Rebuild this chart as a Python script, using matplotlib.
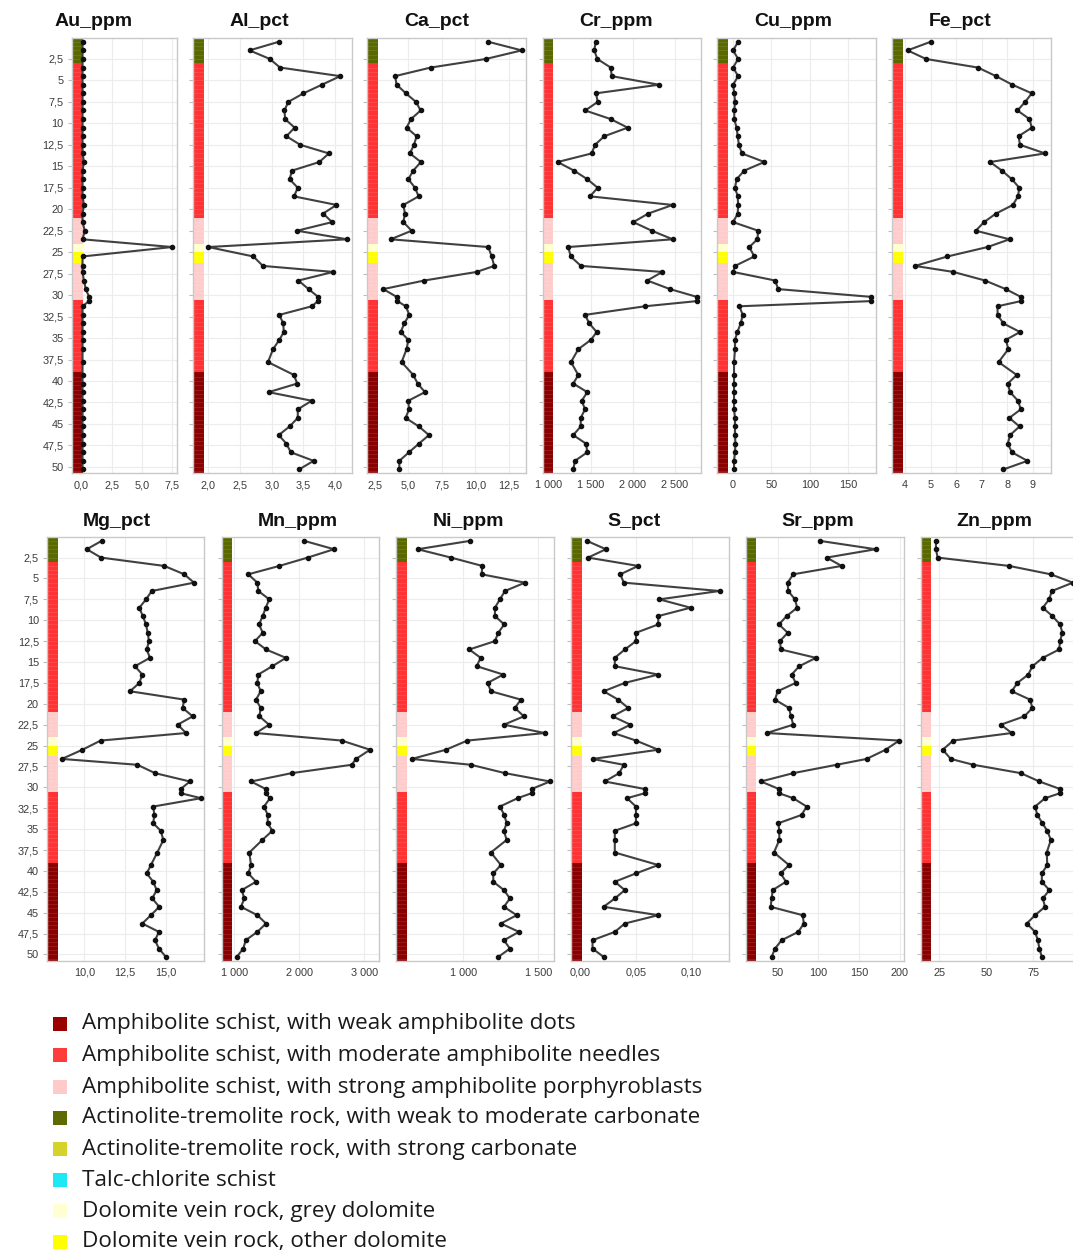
import matplotlib
matplotlib.use("Agg")
import matplotlib.pyplot as plt
import matplotlib.transforms as mtransforms
from matplotlib.patches import Rectangle

# ---------------------------------------------------------------- data
depth = [0.5, 1.5, 2.5, 3.5, 4.5, 5.5, 6.5, 7.5, 8.5, 9.5, 10.5, 11.5,
         12.5, 13.5, 14.5, 15.5, 16.5, 17.5, 18.5, 19.5, 20.5, 21.5, 22.5,
         23.5, 24.4, 25.5, 26.6, 27.3, 28.3, 29.3, 30.2, 30.7, 31.3, 32.3,
         33.3, 34.3, 35.2, 36.3, 37.8, 39.3, 40.3, 41.3, 42.3, 43.3, 44.3,
         45.3, 46.3, 47.3, 48.3, 49.3, 50.3]

au_ppm = [0.08, 0.08, 0.08, 0.08, 0.08, 0.08, 0.08, 0.08, 0.08, 0.08, 0.08,
          0.08, 0.08, 0.08, 0.2, 0.08, 0.08, 0.08, 0.08, 0.2, 0.08, 0.08,
          0.27, 0.08, 7.5, 0.08, 0.08, 0.08, 0.19, 0.35, 0.62, 0.62, 0.08,
          0.08, 0.08, 0.08, 0.08, 0.08, 0.08, 0.08, 0.08, 0.08, 0.08, 0.08,
          0.08, 0.08, 0.08, 0.08, 0.08, 0.08, 0.08]
al_pct = [3.11, 2.65, 2.97, 3.13, 4.08, 3.79, 3.50, 3.26, 3.20, 3.21, 3.36,
          3.23, 3.45, 3.90, 3.75, 3.32, 3.28, 3.41, 3.35, 4.02, 3.81, 3.95,
          3.40, 4.19, 2.00, 2.71, 2.86, 3.97, 3.42, 3.58, 3.73, 3.73, 3.63,
          3.12, 3.18, 3.19, 3.12, 3.02, 2.94, 3.35, 3.40, 2.95, 3.63, 3.41,
          3.41, 3.28, 3.11, 3.23, 3.30, 3.66, 3.43]
ca_pct = [10.96, 13.45, 10.78, 6.66, 4.00, 4.12, 4.81, 5.56, 5.91, 5.19, 4.86,
          5.61, 5.41, 5.11, 5.93, 5.36, 4.99, 5.49, 5.76, 4.62, 4.74, 4.62,
          5.24, 3.67, 10.96, 11.21, 11.40, 10.09, 6.18, 3.12, 4.12, 4.17,
          4.81, 5.06, 4.69, 4.42, 4.99, 4.86, 4.49, 5.36, 5.69, 6.23, 4.99,
          5.04, 4.79, 5.78, 6.53, 5.78, 5.04, 4.32, 4.32]
cr_ppm = [1561, 1545, 1580, 1739, 1751, 2311, 1565, 1585, 1438, 1739, 1940,
          1663, 1553, 1514, 1111, 1304, 1462, 1585, 1494, 2473, 2184, 2007,
          2225, 2473, 1237, 1265, 1387, 2350, 2172, 2441, 2757, 2757, 2145,
          1435, 1486, 1573, 1506, 1355, 1269, 1355, 1296, 1462, 1396, 1435,
          1384, 1384, 1296, 1447, 1462, 1316, 1296]
cu_ppm = [7, 0.5, 7, 0.5, 7, 0.5, 2, 3, 2, 2, 5, 6.5, 8, 12, 41, 15, 5, 3,
          6.5, 7, 6.5, 0.5, 33, 32, 21.5, 28, 3, 0.5, 55, 59, 179, 179, 8.6,
          13, 10.4, 6, 3, 3, 1.7, 1.7, 1.7, 1.7, 1.7, 1.7, 3, 3, 3, 3.5, 3,
          1.7, 1.7]
fe_pct = [5.00, 4.10, 4.82, 6.85, 7.56, 8.20, 8.96, 8.70, 8.40, 8.87, 8.96,
          8.44, 8.50, 9.48, 7.33, 7.79, 8.18, 8.47, 8.42, 8.22, 7.56, 7.09,
          6.77, 8.09, 7.23, 5.66, 4.39, 5.89, 7.13, 7.94, 8.53, 8.53, 7.62,
          7.62, 7.85, 8.50, 7.95, 8.04, 7.66, 8.37, 8.02, 8.11, 8.42, 8.53,
          8.08, 8.48, 8.11, 8.02, 8.18, 8.79, 7.85]
mg_pct = [11.06, 10.15, 11.02, 14.90, 16.12, 16.72, 14.13, 13.78, 13.37,
          13.58, 13.78, 13.88, 13.96, 13.82, 14.02, 13.10, 13.55, 13.37,
          12.80, 16.12, 16.02, 16.64, 15.72, 16.23, 11.00, 9.88, 8.62, 13.25,
          14.33, 16.47, 15.90, 15.90, 17.15, 14.22, 14.29, 14.22, 14.68,
          14.84, 14.47, 14.08, 13.82, 14.22, 14.43, 14.16, 14.59, 14.08,
          13.55, 14.57, 14.33, 14.57, 15.00]
mn_ppm = [2077, 2534, 2129, 1692, 1215, 1354, 1369, 1538, 1483, 1437, 1380,
          1437, 1318, 1488, 1795, 1585, 1369, 1354, 1406, 1334, 1406, 1385,
          1534, 1334, 2652, 3088, 2872, 2806, 1883, 1257, 1483, 1483, 1549,
          1457, 1514, 1514, 1585, 1431, 1231, 1257, 1215, 1334, 1114, 1154,
          1103, 1354, 1488, 1354, 1175, 1138, 1037]
ni_ppm = [1044, 696, 918, 1127, 1122, 1411, 1278, 1244, 1211, 1211, 1273,
          1233, 1211, 1040, 1116, 1089, 1267, 1162, 1184, 1384, 1344, 1404,
          1271, 1544, 1027, 884, 656, 1051, 1278, 1578, 1456, 1456, 1362,
          1244, 1273, 1289, 1271, 1289, 1184, 1251, 1200, 1200, 1271, 1311,
          1271, 1356, 1251, 1371, 1271, 1311, 1233]
s_pct = [0.006, 0.023, 0.007, 0.052, 0.036, 0.039, 0.125, 0.071, 0.099,
         0.070, 0.070, 0.050, 0.050, 0.040, 0.031, 0.031, 0.070, 0.040, 0.021,
         0.034, 0.043, 0.029, 0.045, 0.030, 0.050, 0.070, 0.011, 0.039, 0.035,
         0.022, 0.058, 0.058, 0.042, 0.050, 0.050, 0.050, 0.031, 0.031, 0.031,
         0.070, 0.050, 0.031, 0.040, 0.031, 0.021, 0.070, 0.040, 0.031, 0.011,
         0.011, 0.021]
sr_ppm = [101.9, 170.2, 110.1, 128.5, 69.1, 62.3, 63.0, 71.2, 74.0, 61.0,
          51.6, 62.3, 52.8, 54.0, 97.0, 76.5, 67.2, 72.1, 50.0, 46.7, 63.9,
          66.3, 69.1, 36.5, 199.1, 182.4, 159.1, 122.3, 69.1, 29.5, 51.6,
          51.6, 69.1, 85.6, 79.4, 50.8, 52.0, 52.0, 45.5, 63.9, 53.7, 60.2,
          43.9, 42.6, 41.4, 80.6, 82.2, 75.3, 54.9, 46.7, 42.6]
zn_ppm = [23.2, 23.2, 24.1, 62.2, 84.2, 96.0, 84.8, 83.4, 80.0, 85.1, 89.2,
          90.4, 89.2, 88.7, 80.0, 74.5, 72.3, 66.5, 63.5, 73.2, 74.5, 70.2,
          57.7, 63.5, 32.4, 26.8, 31.1, 43.1, 68.3, 78.2, 89.2, 89.2, 81.2,
          75.9, 77.1, 79.8, 82.4, 84.3, 82.1, 82.4, 79.5, 79.5, 83.5, 80.0,
          81.2, 75.9, 71.5, 75.9, 77.4, 78.2, 79.5]

# lithology log: interval tops, bottoms and unit index
litho_units = [
    "Amphibolite schist, with weak amphibolite dots",
    "Amphibolite schist, with moderate amphibolite needles",
    "Amphibolite schist, with strong amphibolite porphyroblasts",
    "Actinolite-tremolite rock, with weak to moderate carbonate",
    "Actinolite-tremolite rock, with strong carbonate",
    "Talc-chlorite schist",
    "Dolomite vein rock, grey dolomite",
    "Dolomite vein rock, other dolomite",
]
litho_colors = ["#9b0000", "#ff3c3c", "#ffcaca", "#5e6a00",
                "#d6d22c", "#1ee8f4", "#ffffd2", "#ffff00"]
litho_top = [0.0, 3.0, 21.0, 24.0, 25.0, 26.3, 30.6, 39.0]
litho_bottom = [3.0, 21.0, 24.0, 25.0, 26.3, 30.6, 39.0, 50.75]
litho_unit = [3, 1, 2, 6, 7, 2, 1, 0]
strip_colors = {0: "#8a0000", 1: "#ff3333", 2: "#ffcccc", 3: "#5a6800",
                6: "#ffffd0", 7: "#ffff00"}

depth_ticks = [2.5, 5, 7.5, 10, 12.5, 15, 17.5, 20, 22.5, 25, 27.5, 30,
               32.5, 35, 37.5, 40, 42.5, 45, 47.5, 50]

# ---------------------------------------------------------------- layout
W, H = 1073, 1255
fig = plt.figure(figsize=(W / 100, H / 100), dpi=100)

TICK_FONT = "Liberation Sans"


def fmt(v, dec):
    s = f"{v:,.{dec}f}"
    return s.replace(",", " ").replace(".", ",")


def ylab(v):
    return f"{v:g}".replace(".", ",")


# name, values, (left px, right px), xlim, xticks, decimals, title centre x
top_row = [
    ("Au_ppm", au_ppm, (72, 176.7), (-0.79, 7.87), [0, 2.5, 5, 7.5], 1, 94),
    ("Al_pct", al_pct, (193.3, 351.7), (1.763, 4.26),
     [2.0, 2.5, 3.0, 3.5, 4.0], 1, 259),
    ("Ca_pct", ca_pct, (367.3, 525.7), (1.93, 13.75),
     [2.5, 5, 7.5, 10, 12.5], 1, 437),
    ("Cr_ppm", cr_ppm, (542.7, 701), (934, 2808),
     [1000, 1500, 2000, 2500], 0, 616),
    ("Cu_ppm", cu_ppm, (717.3, 875.7), (-20, 185.5), [0, 50, 100, 150], 0,
     793),
    ("Fe_pct", fe_pct, (892, 1050.7), (3.49, 9.70), [4, 5, 6, 7, 8, 9], 0,
     960),
]
bottom_row = [
    ("Mg_pct", mg_pct, (47.3, 204.3), (7.73, 17.35), [10, 12.5, 15], 1, 117),
    ("Mn_ppm", mn_ppm, (221.7, 379), (806, 3226), [1000, 2000, 3000], 0, 298),
    ("Ni_ppm", ni_ppm, (396, 554.3), (551, 1607), [1000, 1500], 0, 468),
    ("S_pct", s_pct, (571, 729), (-0.0083, 0.1335), [0.0, 0.05, 0.10], 2,
     634),
    ("Sr_ppm", sr_ppm, (745.7, 904), (10.8, 205), [50, 100, 150, 200], 0,
     818),
    ("Zn_ppm", zn_ppm, (920.7, 1078.7), (15.1, 99.1), [25, 50, 75], 0, 994),
]

rows = [(top_row, 37.5, 473.3, 21.5), (bottom_row, 536.7, 960.7, 521.5)]

for panels, ytop, ybot, ytitle in rows:
    for i, (name, vals, (xl, xr), xlim, xticks, dec, tcx) in enumerate(panels):
        ax = fig.add_axes([xl / W, 1 - ybot / H, (xr - xl) / W,
                           (ybot - ytop) / H])
        ax.set_facecolor("white")
        ax.set_xlim(*xlim)
        ax.set_ylim(50.75, 0)
        ax.set_xticks(xticks)
        ax.set_xticklabels([fmt(v, dec) for v in xticks])
        ax.set_yticks(depth_ticks)
        if i == 0:
            ax.set_yticklabels([ylab(v) for v in depth_ticks])
        else:
            ax.set_yticklabels([])
        ax.grid(True, color="#ececec", lw=0.8, zorder=0)
        ax.set_axisbelow(True)
        for sp in ax.spines.values():
            sp.set_color("#c9c9c9")
            sp.set_linewidth(1.0)
        ax.tick_params(axis="x", length=0, pad=5, labelsize=7.8,
                       labelcolor="#3a3a3a")
        ax.tick_params(axis="y", length=3, width=0.8, color="#bdbdbd",
                       pad=3, labelsize=7.8, labelcolor="#3a3a3a")
        for lab in ax.get_xticklabels() + ax.get_yticklabels():
            lab.set_fontfamily(TICK_FONT)

        # lithology strip on the left edge of every panel
        trans = mtransforms.blended_transform_factory(ax.transAxes,
                                                      ax.transData)
        sw = 10.5 / (xr - xl)
        for t, b, u in zip(litho_top, litho_bottom, litho_unit):
            ax.add_patch(Rectangle((0, t), sw, b - t, transform=trans,
                                   facecolor=strip_colors[u],
                                   edgecolor="none", zorder=2))
            k = t + 0.5
            while k < b - 0.01:
                ax.plot([0, sw], [k, k], transform=trans, color="white",
                        alpha=0.12, lw=0.6, zorder=2.1)
                k += 0.5

        ax.plot(vals, depth, "-", color="#404040", lw=1.5, zorder=3,
                marker="o", ms=3.0, mfc="#111111", mec="#111111")

        fig.text(tcx / W, 1 - ytitle / H, name, ha="center", va="center",
                 fontsize=14, fontweight="bold", family="Liberation Sans",
                 color="#111111")

# ---------------------------------------------------------------- legend
row_y = [1024, 1055, 1087, 1118, 1149, 1180, 1211, 1242]
for y, label, col in zip(row_y, litho_units, litho_colors):
    fig.add_artist(Rectangle((53 / W, 1 - (y + 7) / H), 14 / W, 14 / H,
                             transform=fig.transFigure, facecolor=col,
                             edgecolor="none"))
    fig.text(82 / W, 1 - y / H, label, ha="left", va="center",
             fontsize=16.2, family="Open Sans", color="#1a1a1a")

fig.savefig("out.png", dpi=100, facecolor="white")
